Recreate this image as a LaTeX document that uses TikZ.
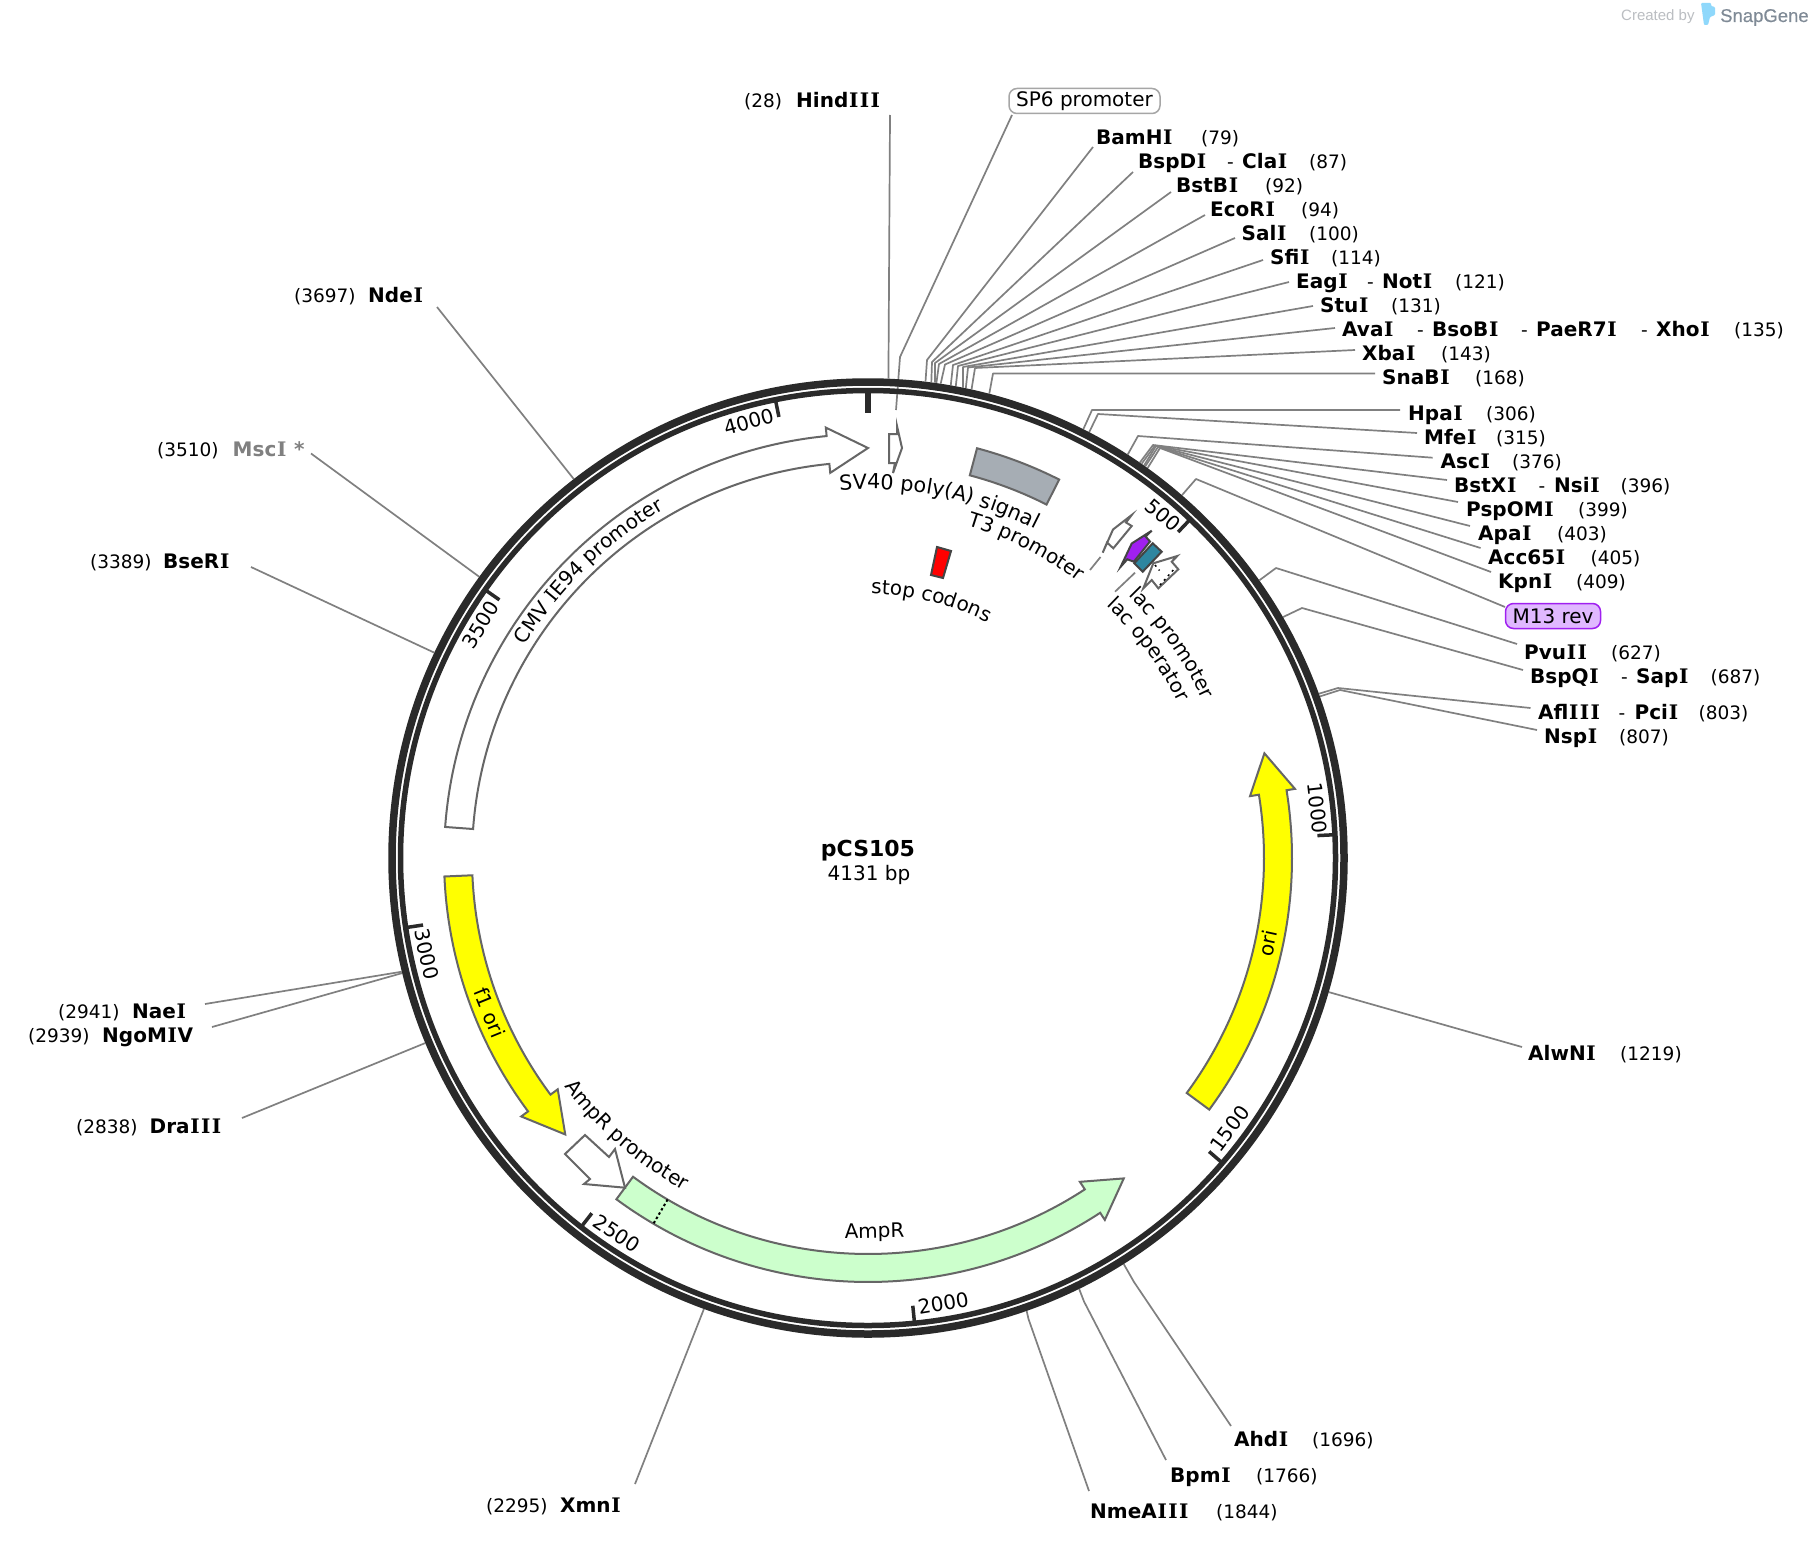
\documentclass[tikz,border=0pt]{standalone}
\usepackage{fontspec}
\setmainfont{DejaVu Sans}
\newfontfamily\wmfont{Liberation Sans}
\newfontfamily\wmbold[FakeBold=0.4]{Liberation Sans}
\newfontfamily\ifam{DejaVu Serif}
\newcommand{\sI}{{\kern.7pt\ifam\bfseries I\kern.7pt}}
\usetikzlibrary{decorations.text,calc}
\definecolor{ringc}{HTML}{2A2A2A}
\definecolor{connc}{HTML}{808080}
\definecolor{edgec}{HTML}{666666}
\definecolor{darkedge}{HTML}{444444}
\definecolor{sv40c}{HTML}{A6ADB4}
\definecolor{tealc}{HTML}{2E86A0}
\definecolor{purpc}{HTML}{A020F0}
\definecolor{m13c}{HTML}{E0B8FF}
\definecolor{greenc}{HTML}{CCFFCC}
\definecolor{yelc}{RGB}{255,255,0}
\definecolor{redc}{RGB}{255,0,0}
\definecolor{wmlight}{HTML}{BBBEC2}
\definecolor{wmdark}{HTML}{7F8A96}
\definecolor{wmicon}{HTML}{8FD8FB}
\newcommand{\lblfont}{\fontsize{20}{24}\selectfont}
\newcommand{\posfont}{\fontsize{18.5}{22}\selectfont}
\newcommand{\curvefont}{\fontsize{20}{24}\selectfont}
\newcommand{\curvewide}{\fontsize{20.7}{24}\selectfont}
\tikzset{
  x=1pt,y=1pt,
  conn/.style={draw=connc,line width=1.7pt,line join=round},
  feat/.style={draw=edgec,line width=2pt,line join=miter},
  featdark/.style={draw=darkedge,line width=2pt,line join=miter},
  sname/.style={inner sep=0pt,anchor=base west,font=\lblfont\bfseries,text=black},
  spos/.style={inner sep=0pt,anchor=base west,font=\posfont,text=black},
  rlab/.style={inner sep=0pt,anchor=base,font=\lblfont,text=black},
  ringl/.style={draw=ringc},
  tickl/.style={draw=ringc,line width=3.5pt},
}
% clockwise-from-top arrow feature: start, head base, tip, fill
\newcommand{\featarrow}[4]{%
  \draw[feat,fill=#4] ({90-#1}:424) arc[start angle={90-#1},end angle={90-#2},radius=424]
    -- ({90-#2}:432.5) -- ({90-#3}:410) -- ({90-#2}:387) -- ({90-#2}:396)
    arc[start angle={90-#2},end angle={90-#1},radius=396] -- cycle;}
% connector with elbow: id, plasmid position, elbow x, y, end x, y
\newcommand{\siteE}[6]{%
  \coordinate (#1r) at ([shift={({90-#2/4131*360}:480)}]C);
  \coordinate (#1e) at (#3,-#4);
  \coordinate (#1t) at (#5,-#6);
  \draw[conn] (#1r) -- (#1e) -- (#1t);}
\newcommand{\siteS}[4]{%
  \coordinate (#1r) at ([shift={({90-#2/4131*360}:480)}]C);
  \coordinate (#1t) at (#3,-#4);
  \draw[conn] (#1r) -- (#1t);}
\newcommand{\nm}[4]{\node[sname] (#1) at (#2,-#3) {#4};}
\newcommand{\ps}[4]{\node[spos] (#1) at (#2,-#3) {#4};}
% rotated text: id, angle, baseline radius, text
\newcommand{\toplab}[4]{\node[rlab,rotate={-#2}] (#1) at ([shift={({90-#2}:#3)}]C) {#4};}
\newcommand{\botlab}[4]{\node[rlab,rotate={180-#2}] (#1) at ([shift={({90-#2}:#3)}]C) {#4};}
% curved text: start angle, end angle, radius, text (with its font)
\newcommand{\curved}[4]{%
  \path[decorate,decoration={text along path,text align=center,text={#4}}]
    ([shift={({90-#1}:#3)}]C) arc[start angle={90-#1},end angle={90-#2},radius=#3];}
\newcommand{\tickmark}[1]{%
  \draw[tickl] ([shift={({90-#1/4131*360}:466)}]C) -- ([shift={({90-#1/4131*360}:450)}]C);}
\begin{document}
\begin{tikzpicture}
\useasboundingbox (0,0) rectangle (1814,-1544);
\fill[white] (0,0) rectangle (1814,-1544);
\coordinate (C) at (868,-858);

% watermark
\node[inner sep=0pt,anchor=base west,text=wmlight,font=\wmfont\fontsize{15}{18}\selectfont] (wmA) at (1621,-21) {Created by};
\fill[fill=wmicon,rounded corners=1pt] (1701,-3) -- (1711,-3) -- (1711,-6) -- (1715,-7) -- (1715,-15) -- (1710,-17) -- (1708,-25) -- (1704,-25) -- cycle;
\node[inner sep=0pt,anchor=base west,text=wmdark,font=\wmbold\fontsize{18.5}{22}\selectfont] (wmB) at (1720,-22) {SnapGene};

% connectors
\coordinate (hinda) at ([shift={({90-28/4131*360}:480)}]C);
\coordinate (hindt) at (890,-115);
\draw[conn] (hinda) -- (hindt);
\coordinate (spa) at (1012,-115);
\coordinate (spb) at (900,-357);
\coordinate (spc) at (896,-410);
\draw[conn] (spa) -- (spb) -- (spc);
\siteE{bam}{79}{927}{360}{1093}{147}
\siteE{bspd}{87}{932}{362}{1133}{172}
\siteE{bstb}{92}{935}{363}{1171}{192}
\siteE{eco}{94}{939}{364}{1205}{215}
\siteE{sal}{100}{945}{364.5}{1235}{238}
\siteE{sfi}{114}{953}{365}{1263}{260}
\siteE{eag}{121}{958}{366}{1289}{282}
\siteE{stu}{131}{963}{367}{1313}{306}
\siteE{ava}{135}{968}{367.5}{1335}{328}
\siteE{xba}{143}{975}{368}{1355}{350}
\siteE{sna}{168}{993}{373.5}{1375}{373.5}
\siteE{hpa}{306}{1092}{410}{1400}{410}
\siteE{mfe}{315}{1098}{414}{1417}{433}
\siteE{asc}{376}{1138}{436}{1432.6}{457.7}
\siteE{bstx}{396}{1153}{445}{1447}{480}
\siteE{psp}{399}{1155}{445.5}{1458}{502}
\siteE{apa}{403}{1156}{446}{1470}{526}
\siteE{acc}{405}{1158}{447}{1480.5}{548}
\siteE{kpn}{409}{1160}{448}{1491}{572}
\siteE{mth}{469}{1196}{479}{1505}{607}
\siteE{pvu}{627}{1276}{568}{1517}{644}
\siteE{bspq}{687}{1302}{608}{1523}{670}
\siteE{afl}{803}{1338}{688}{1530.5}{708}
\siteE{nsp}{807}{1340}{690}{1537}{730}
\siteS{alw}{1219}{1522}{1047}
\siteE{ahd}{1696}{1134}{1282}{1231}{1426}
\siteE{bpm}{1766}{1084}{1301.5}{1166}{1460}
\siteE{nme}{1844}{1028.5}{1319}{1089}{1491}
\siteS{xmn}{2295}{635}{1484}
\siteS{dra}{2838}{242}{1118}
\siteS{ngo}{2939}{212}{1027}
\siteS{nae}{2941}{205}{1004}
\siteS{bse}{3389}{251}{567}
\siteS{msc}{3510}{311}{453.5}
\siteS{nde}{3697}{437}{307}

% backbone
\draw[ringl,line width=7.5pt] (C) circle[radius=476];
\draw[ringl,line width=5.5pt] (C) circle[radius=467.5];
\draw[draw=ringc,line width=6pt] ([shift={(90:466)}]C) -- ([shift={(90:445)}]C);
\foreach \p in {500,1000,1500,2000,2500,3000,3500,4000} {\tickmark{\p}}

% features
\begin{scope}[shift={(868,-858)}]
\featarrow{274.2}{354.4}{360}{white}
\featarrow{126.4}{80.8}{75.2}{yelc}
\featarrow{267.5}{233.3}{227.6}{yelc}
\featarrow{216.4}{146.8}{141.4}{greenc}
\draw[feat,fill=sv40c] ({90-14.9}:424) arc[start angle={90-14.9},end angle={90-26.8},radius=424]
  -- ({90-26.8}:396) arc[start angle={90-26.8},end angle={90-14.9},radius=396] -- cycle;
\draw[black,line width=2pt,dash pattern=on 2.5pt off 2.5pt] ({90-210.4}:396) -- ({90-210.4}:424);
\end{scope}
% AmpR promoter
\draw[feat,fill=white] (585,-1135) -- (609,-1157) -- (615,-1149) -- (625,-1187.7) -- (584,-1184) -- (590,-1179) -- (565,-1154) -- cycle;
% SP6 promoter
\draw[feat,fill=white] (889,-434) -- (897,-434) -- (897,-426) -- (902,-448) -- (893,-473) -- (895,-463) -- (889,-463) -- cycle;
% stop codons
\draw[featdark,fill=redc] (937,-547) -- (951,-551) -- (943,-578) -- (931,-575) -- cycle;
% T3 promoter
\draw[feat,fill=white] (1131.7,-526) -- (1126,-522.5) -- (1131.7,-515) -- (1113,-529.5) -- (1102.7,-552.7) -- (1107,-542.5) -- (1113.3,-548.3) -- cycle;
\coordinate (tthreea) at (1090,-570);
\coordinate (tthreeb) at (1100.5,-557);
\draw[draw=connc,line width=1.7pt] (tthreea) -- (tthreeb);
% M13 rev
\draw[featdark,fill=purpc] (1150,-541.5) -- (1145.5,-536.5) -- (1151.7,-530.7) -- (1131.7,-543.5) -- (1120.7,-566.7) -- (1127.3,-559.3) -- (1133.8,-561.7) -- cycle;
% lac operator
\draw[featdark,fill=tealc] (1152.7,-543.3) -- (1161.7,-551.7) -- (1142.7,-571.7) -- (1134.3,-563.3) -- cycle;
\coordinate (laca) at (1115,-591.7);
\coordinate (lacb) at (1135,-572.7);
\draw[draw=connc,line width=1.7pt] (laca) -- (lacb);
% lac promoter
\draw[feat,fill=white] (1177.3,-556) -- (1171.7,-561.7) -- (1178.3,-569.3) -- (1158.3,-588.3) -- (1151.7,-580) -- (1143.3,-588.3) -- (1153.3,-563.3) -- cycle;
\draw[black,line width=1.5pt,dash pattern=on 2pt off 4pt] (1155,-565) -- (1159.5,-570.5);
\draw[black,line width=1.5pt,dash pattern=on 2pt off 4pt] (1160,-585) -- (1175,-568);

% centre
\node[inner sep=0pt,font=\fontsize{22}{26}\selectfont\bfseries] (title) at (868,-851) {pCS105};
\node[inner sep=0pt,font=\lblfont] (size) at (869,-874.5) {4131 bp};

% boxes
\node[draw=gray!70,line width=1.5pt,fill=white,rounded corners=8pt,minimum width=151pt,minimum height=25pt,inner sep=0pt,font=\lblfont] (spbox) at (1084.5,-101) {\raisebox{-1pt}{SP6 promoter}};
\node[draw=purpc,line width=1.5pt,fill=m13c,rounded corners=8pt,minimum width=95pt,minimum height=25pt,inner sep=0pt,font=\lblfont] (mbox) at (1553,-616) {M13 rev};

% site labels
\ps{p28}{744}{108}{(28)} \nm{n28}{796}{108}{Hind\sI\sI\sI}
\nm{n79}{1096}{144}{BamH\sI} \ps{p79}{1201}{144}{(79)}
\nm{n87}{1138}{168}{BspD\sI} \ps{d87}{1227}{168}{-} \nm{m87}{1242}{168}{Cla\sI} \ps{p87}{1309}{168}{(87)}
\nm{n92}{1176}{192}{BstB\sI} \ps{p92}{1265}{192}{(92)}
\nm{n94}{1210}{216}{EcoR\sI} \ps{p94}{1301}{216}{(94)}
\nm{n100}{1241.5}{240}{Sal\sI} \ps{p100}{1309}{240}{(100)}
\nm{n114}{1270}{264}{Sfi\sI} \ps{p114}{1331}{264}{(114)}
\nm{n121}{1296}{288}{Eag\sI} \ps{d121}{1367}{288}{-} \nm{m121}{1382}{288}{Not\sI} \ps{p121}{1455}{288}{(121)}
\nm{n131}{1320}{312}{Stu\sI} \ps{p131}{1391}{312}{(131)}
\nm{n135}{1342}{336.5}{Ava\sI} \ps{d135a}{1417}{336.5}{-} \nm{m135a}{1432}{336.5}{BsoB\sI} \ps{d135b}{1521}{336.5}{-} \nm{m135b}{1536}{336.5}{PaeR7\sI} \ps{d135c}{1641}{336.5}{-} \nm{m135c}{1656}{336.5}{Xho\sI} \ps{p135}{1734}{336.5}{(135)}
\nm{n143}{1362}{360}{Xba\sI} \ps{p143}{1441}{360}{(143)}
\nm{n168}{1382}{384}{SnaB\sI} \ps{p168}{1475}{384}{(168)}
\nm{n306}{1408}{420}{Hpa\sI} \ps{p306}{1486}{420}{(306)}
\nm{n315}{1424}{444}{Mfe\sI} \ps{p315}{1496}{444}{(315)}
\nm{n376}{1440.5}{468}{Asc\sI} \ps{p376}{1512}{468}{(376)}
\nm{n396}{1454}{492}{BstX\sI} \ps{d396}{1538.5}{492}{-} \nm{m396}{1554}{492}{Nsi\sI} \ps{p396}{1620.5}{492}{(396)}
\nm{n399}{1466}{516}{PspOM\sI} \ps{p399}{1578}{516}{(399)}
\nm{n403}{1478}{540}{Apa\sI} \ps{p403}{1557}{540}{(403)}
\nm{n405}{1488}{564}{Acc65\sI} \ps{p405}{1590.5}{564}{(405)}
\nm{n409}{1498}{588}{Kpn\sI} \ps{p409}{1576}{588}{(409)}
\nm{n627}{1524}{659}{Pvu\sI\sI} \ps{p627}{1611}{659}{(627)}
\nm{n687}{1530}{683}{BspQ\sI} \ps{d687}{1621}{683}{-} \nm{m687}{1636}{683}{Sap\sI} \ps{p687}{1710.5}{683}{(687)}
\nm{n803}{1538}{719}{Afl\sI\sI\sI} \ps{d803}{1618.5}{719}{-} \nm{m803}{1634.5}{719}{Pci\sI} \ps{p803}{1698.5}{719}{(803)}
\nm{n807}{1544}{743}{Nsp\sI} \ps{p807}{1619}{743}{(807)}
\nm{n1219}{1528}{1060}{AlwN\sI} \ps{p1219}{1620}{1060}{(1219)}
\nm{n1696}{1234}{1446}{Ahd\sI} \ps{p1696}{1312}{1446}{(1696)}
\nm{n1766}{1170}{1482}{Bpm\sI} \ps{p1766}{1256}{1482}{(1766)}
\nm{n1844}{1090}{1518}{NmeA\sI\sI\sI} \ps{p1844}{1216}{1518}{(1844)}
\ps{p2295}{486}{1512}{(2295)} \nm{n2295}{560}{1512}{Xmn\sI}
\ps{p2838}{76}{1133.5}{(2838)} \nm{n2838}{149.5}{1133.5}{Dra\sI\sI\sI}
\ps{p2939}{28}{1042}{(2939)} \nm{n2939}{102}{1042}{NgoM\sI V}
\ps{p2941}{58}{1018.5}{(2941)} \nm{n2941}{132}{1018.5}{Nae\sI}
\ps{p3389}{90}{568.5}{(3389)} \nm{n3389}{163}{568.5}{BseR\sI}
\ps{p3510}{157}{456.5}{(3510)} \node[sname,text=gray] (n3510) at (232.5,-456.5) {Msc{\sI} *};
\ps{p3697}{294}{302.5}{(3697)} \nm{n3697}{368}{302.5}{Nde\sI}

% tick numbers
\toplab{t500}{40.7}{445}{500}
\toplab{t1000}{83.7}{445}{1000}
\botlab{t1500}{126.8}{459}{1500}
\botlab{t2000}{170.4}{459}{2000}
\botlab{t2500}{213.8}{459}{2500}
\botlab{t3000}{257.7}{459}{3000}
\toplab{t3500}{301}{445}{3500}
\toplab{t4000}{344.7}{445}{4000}

% short feature labels
\botlab{lori}{102}{416}{ori}
\botlab{lfone}{247.8}{416}{f1 ori}
\botlab{lamp}{179}{380}{AmpR}

% curved feature labels
\curved{-4.8}{27.4}{369}{|\curvewide|SV40 poly(A) signal}
\curved{17}{37}{347}{|\curvefont|T3 promoter}
\curved{0.6}{27}{264}{|\curvefont|stop codons}
\curved{44.8}{64.6}{370}{|\curvefont|lac promoter}
\curved{43.1}{63.6}{347}{|\curvefont|lac operator}
\curved{233.2}{208.8}{380}{|\curvefont|AmpR promoter}
\curved{301.9}{329.6}{404}{|\curvefont|CMV |||\curvefont\ifam|I|||\curvefont|E94 promoter}
\end{tikzpicture}
\end{document}
